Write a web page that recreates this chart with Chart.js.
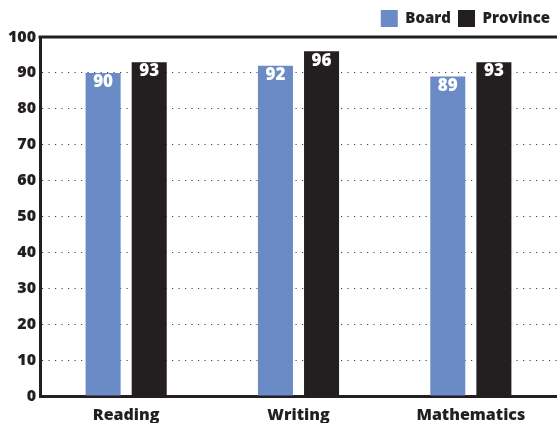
<!DOCTYPE html>
<html>
<head>
<meta charset="utf-8">
<script src="https://cdn.jsdelivr.net/npm/chart.js@4/dist/chart.umd.min.js"></script>
<style>
  html, body { margin:0; padding:0; background:#fff; }
  #wrap { width:557px; height:423px; position:relative; }
</style>
</head>
<body>
<div id="wrap"><canvas id="chart"></canvas></div>
<script>
const CATEGORIES = ['Reading', 'Writing', 'Mathematics'];
const BOARD = [90, 92, 89];
const PROVINCE = [93, 96, 93];
const Y_TICKS = [0, 10, 20, 30, 40, 50, 60, 70, 80, 90, 100];

const DARK = '#231f20';
const BLUE = '#6b8bc6';
const FONT = '"Open Sans", "Noto Sans", sans-serif';

// white value labels inside the top of each bar
const barLabels = {
  id: 'barLabels',
  afterDatasetsDraw(chart){
    const ctx = chart.ctx;
    ctx.save();
    ctx.fillStyle = '#fff';
    ctx.font = `800 17px ${FONT}`;
    ctx.textAlign = 'center';
    ctx.textBaseline = 'top';
    chart.data.datasets.forEach((ds, i)=>{
      chart.getDatasetMeta(i).data.forEach((bar, j)=>{
        ctx.fillText(String(ds.data[j]), bar.x, bar.y + 1);
      });
    });
    ctx.restore();
  }
};

// top frame line across the plot
const topFrame = {
  id: 'topFrame',
  afterDraw(chart){
    const a = chart.chartArea, ctx = chart.ctx;
    ctx.save();
    ctx.strokeStyle = DARK;
    ctx.lineWidth = 3;
    ctx.beginPath();
    ctx.moveTo(a.left - 1.5, a.top);
    ctx.lineTo(chart.width, a.top);
    ctx.stroke();
    ctx.restore();
  }
};

new Chart(document.getElementById('chart'), {
  type: 'bar',
  data: {
    labels: CATEGORIES,
    datasets: [
      { label:'Board', data: BOARD, backgroundColor: BLUE, barPercentage:0.76, categoryPercentage:0.535 },
      { label:'Province', data: PROVINCE, backgroundColor: DARK, barPercentage:0.76, categoryPercentage:0.535 }
    ]
  },
  options: {
    responsive: true,
    maintainAspectRatio: false,
    animation: false,
    layout: { padding: { left: 0, right: 0, top: 3, bottom: 0 } },
    plugins: {
      legend: {
        position: 'top',
        align: 'end',
        labels: {
          boxWidth: 17, boxHeight: 17, padding: 7,
          color: DARK,
          font: { family: FONT, size: 15, weight: '800' }
        }
      },
      tooltip: { enabled: false }
    },
    scales: {
      x: {
        grid: { display: false },
        border: { color: DARK, width: 3 },
        afterFit: (axis)=>{ axis.height = 27; },
        ticks: { color: DARK, font: { family: FONT, size: 16, weight: '800', lineHeight: 1 }, padding: 3 }
      },
      y: {
        min: 0, max: 100,
        afterBuildTicks: (axis)=>{ axis.ticks = Y_TICKS.map(v=>({value:v})); },
        afterFit: (axis)=>{ axis.width = 40; },
        grid: { color: '#444', lineWidth: 1, drawTicks: false },
        border: { color: DARK, width: 3, dash: [1.2, 5.3] },
        ticks: { color: DARK, font: { family: FONT, size: 16, weight: '800' }, padding: 4 }
      }
    }
  },
  plugins: [barLabels, topFrame]
});
</script>
</body>
</html>
